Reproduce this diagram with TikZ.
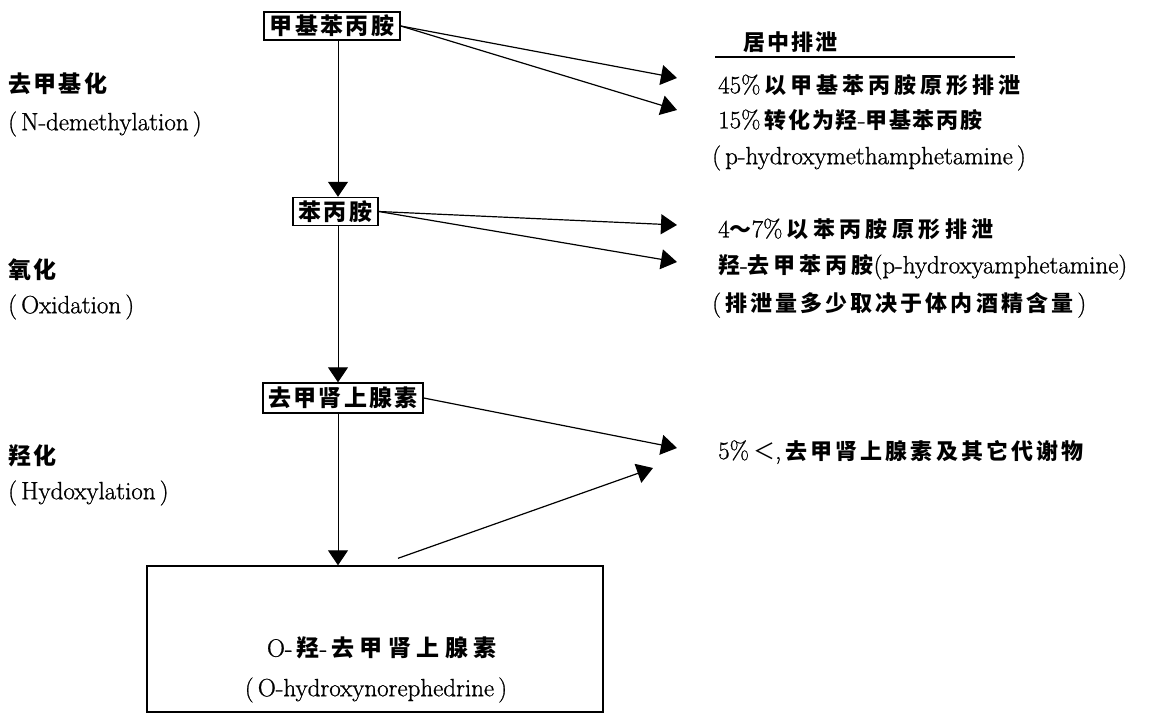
\documentclass[tikz,border=0pt]{standalone}
\usepackage{fontspec}
\usetikzlibrary{arrows.meta}
\newfontfamily\latf{Latin Modern Roman}[FakeBold=0.9]
\newfontfamily\cjkf{Noto Sans CJK SC}
% \zh{size}{letterspace}{text}
\newcommand\zh[3]{{\fontsize{#1}{#1}\selectfont\cjkf\bfseries\addfontfeature{LetterSpace=#2}#3}}
\newcommand\zhn[2]{{\fontsize{#1}{#1}\selectfont\cjkf #2}}
\begin{document}
\begin{tikzpicture}[x=1pt,y=-1pt,
  boxn/.style={draw, line width=1.4pt, inner sep=0pt, minimum height=28pt},
  varr/.style={line width=0.9pt, -{Triangle[length=15pt,width=20pt]}},
  darr/.style={line width=1.2pt, -{Triangle[length=16pt,width=20pt]}},
  txt/.style={inner sep=0pt, anchor=west, font=\latf\fontsize{25}{29}\selectfont}]
\useasboundingbox[fill=white] (0,0) rectangle (1162,714);

% boxes
\node[boxn, minimum width=136pt] (n1) at (332,26) {\zh{23}{10}{甲基苯丙胺}};
\node[boxn, minimum width=85pt] (n2) at (335.5,211.5) {\zh{23}{10}{苯丙胺}};
\node[boxn, minimum width=160pt, minimum height=30pt] (n3) at (343,398) {\zh{23}{10}{去甲肾上腺素}};
\node[draw, line width=1.4pt, minimum width=456pt, minimum height=146pt, inner sep=0pt] (n4) at (375,639) {};
\node[txt, anchor=center] (b1) at (382,648) {O-\,\zh{23}{24}{羟}-\,\zh{23}{24}{去甲肾上腺素}};
\node[txt, anchor=center] (b2) at (376,690) {(\,O-hydroxynorephedrine\,)};

% vertical arrows
\draw[varr] ([xshift=6pt]n1.south) -- ([xshift=2.5pt]n2.north);
\draw[varr] ([xshift=2.5pt]n2.south) -- ([xshift=-5pt]n3.north);
\draw[varr] ([xshift=-5pt]n3.south) -- ([xshift=-37pt]n4.north);

% targets
\coordinate (t1) at (677,78);
\coordinate (t2) at (677,110);
\coordinate (t3) at (677,225);
\coordinate (t4) at (677,262);
\coordinate (t5) at (677,448);
\coordinate (t6) at (653,468);

\draw[darr] (n1.east) -- (t1);
\draw[darr] (n1.east) -- (t2);
\draw[darr] (n2.east) -- (t3);
\draw[darr] (n2.east) -- (t4);
\draw[darr] (n3.east) -- (t5);
\draw[darr] ([xshift=23pt,yshift=7pt]n4.north) -- (t6);

% left labels
\node[txt] (l1) at (8,84) {\zh{23}{10}{去甲基化}};
\node[txt] (l2) at (8,124) {(\,N-demethylation\,)};
\node[txt] (l3) at (8,270) {\zh{23}{10}{氧化}};
\node[txt] (l4) at (8,307) {(\,Oxidation\,)};
\node[txt] (l5) at (8,456) {\zh{23}{10}{羟化}};
\node[txt] (l6) at (8,493) {(\,Hydoxylation\,)};

% right column
\node[txt] (h) at (743,42) {\zh{22}{10}{居中排泄}};
\coordinate (u1) at (715,57);
\coordinate (u2) at (1015,57);
\draw[line width=1.4pt] (u1) -- (u2);
\node[txt] (r1) at (718,85) {45\%\,\zh{22}{18}{以甲基苯丙胺原形排泄}};
\node[txt] (r2) at (718,120) {15\%\,\zh{22}{8}{转化为羟}-\zh{22}{8}{甲基苯丙胺}};
\node[txt] (r3) at (712,158) {(\,p-hydroxymethamphetamine\,)};
\node[txt] (r4) at (718,229) {4\zh{22}{0}{～}7\%\,\zh{22}{20}{以苯丙胺原形排泄}};
\node[txt] (r5) at (718,267) {\zh{22}{18}{羟}-\zh{22}{18}{去甲苯丙胺}(p-hydroxyamphetamine)};
\node[txt] (r6) at (712,305) {(\,\zh{22}{14}{排泄量多少取决于体内酒精含量}\,)};
\node[txt] (r7) at (718,452) {5\%\,\zhn{22}{＜},\,\zh{22}{14}{去甲肾上腺素及其它代谢物}};
\end{tikzpicture}
\end{document}
